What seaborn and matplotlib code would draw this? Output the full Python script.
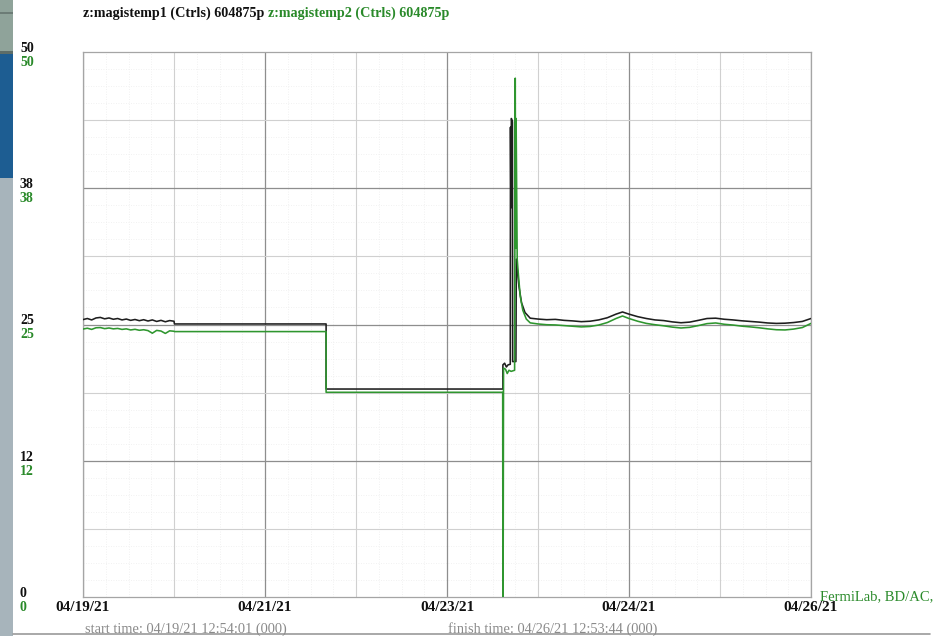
import matplotlib
matplotlib.use("Agg")
import matplotlib.pyplot as plt
import matplotlib.transforms as mtransforms
from matplotlib.patches import Rectangle
from matplotlib.lines import Line2D
from matplotlib.ticker import FixedLocator
import numpy as np
import pandas as pd
import seaborn as sns

sns.set_theme(style="white")
plt.rcParams["font.family"] = ["Liberation Serif", "DejaVu Serif"]

# ---- data -----------------------------------------------------------------
series_names = ["z:magistemp1 (Ctrls) 604875p", "z:magistemp2 (Ctrls) 604875p"]

date_hours = [0, 42, 84, 126, 168]
date_labels = ["04/19/21", "04/21/21", "04/23/21", "04/24/21", "04/26/21"]

y_ticks = [0, 12.5, 25, 37.5, 50]
y_tick_labels = ["0", "12", "25", "38", "50"]

start_label = "start time: 04/19/21 12:54:01 (000)"
finish_label = "finish time: 04/26/21 12:53:44 (000)"
footer_label = "FermiLab, BD/AC,"

# hours since start time, magistemp1
hours_1 = [0, 1, 2, 3, 4, 5, 6, 7, 8, 9, 10, 11, 12, 13, 14, 15, 16, 17, 18, 19, 20, 21,
           21.1, 56.1, 56.1, 96.9, 96.9, 97.3, 97.7, 98.1, 98.6, 98.65, 98.75, 98.85,
           99.1, 99.15, 99.9, 100.0, 100.6, 101.2, 102.0, 103.2,
           105, 107, 109, 111, 113, 115, 117, 119, 121, 123, 124.5, 126, 128, 130,
           132, 134, 136, 138, 140, 142, 144, 146, 148, 150, 152, 154, 156, 158,
           160, 162, 164, 166, 168]
temp_1 = [25.45, 25.55, 25.42, 25.60, 25.65, 25.52, 25.60, 25.48, 25.55, 25.42, 25.50,
          25.38, 25.46, 25.35, 25.44, 25.32, 25.42, 25.28, 25.38, 25.25, 25.36, 25.30,
          25.05, 25.05, 19.08, 19.08, 21.30, 21.45, 21.10, 21.30, 21.35, 43.10, 35.70,
          43.90, 43.60, 21.60, 21.60, 31.00, 28.50, 27.00, 26.10, 25.58,
          25.50, 25.44, 25.47, 25.38, 25.33, 25.26, 25.30, 25.42, 25.62, 25.95, 26.15,
          25.95, 25.72, 25.55, 25.42, 25.36, 25.24, 25.16, 25.22, 25.38, 25.55, 25.58,
          25.48, 25.42, 25.34, 25.28, 25.22, 25.14, 25.10, 25.12, 25.18, 25.28, 25.55]

# hours since start time, magistemp2
hours_2 = [0, 1, 2, 3, 4, 5, 6, 7, 8, 9, 10, 11, 12, 13, 14, 15, 16, 17, 18, 19, 20, 21,
           21.1, 56.1, 56.1, 96.85, 96.9, 96.95, 97.05, 97.5, 97.9, 98.3, 98.8, 99.6,
           99.75, 99.85, 99.95, 100.2, 100.45, 100.9, 101.5, 102.3, 103.2,
           105, 107, 109, 111, 113, 115, 117, 119, 121, 123, 124.5, 126, 128, 130,
           132, 134, 136, 138, 140, 142, 144, 146, 148, 150, 152, 154, 156, 158,
           160, 162, 164, 166, 168]
temp_2 = [24.58, 24.66, 24.55, 24.70, 24.72, 24.62, 24.68, 24.60, 24.64, 24.55, 24.60,
          24.50, 24.56, 24.47, 24.52, 24.44, 24.20, 24.46, 24.40, 24.18, 24.42, 24.38,
          24.35, 24.35, 18.78, 18.78, 0.00, 0.00, 21.00, 20.90, 20.50, 20.80, 20.70,
          20.80, 47.60, 32.00, 43.90, 31.00, 29.70, 27.60, 26.30, 25.50, 25.15,
          25.05, 24.98, 24.96, 24.90, 24.84, 24.78, 24.82, 24.95, 25.18, 25.55, 25.78,
          25.55, 25.30, 25.10, 24.98, 24.88, 24.76, 24.68, 24.74, 24.90, 25.08, 25.14,
          25.02, 24.95, 24.85, 24.78, 24.70, 24.60, 24.52, 24.50, 24.58, 24.72, 25.10]

# ---- style ----------------------------------------------------------------
BLACK = "#1e1e1e"
GREEN = "#2f962f"
LABEL_GREEN = "#2a8a2a"
W, H = 941, 636

df = pd.concat([
    pd.DataFrame({"hours": hours_1, "temp": temp_1, "device": series_names[0]}),
    pd.DataFrame({"hours": hours_2, "temp": temp_2, "device": series_names[1]}),
], ignore_index=True)

fig = plt.figure(figsize=(W / 100, H / 100), dpi=100)
fig.patch.set_facecolor("white")

# window strip on the left edge of the capture
fig.patches.extend([
    Rectangle((0, 0), 13 / W, 1, transform=fig.transFigure, facecolor="#a7b4bb", edgecolor="none"),
    Rectangle((0, 1 - 178 / H), 13 / W, 125 / H, transform=fig.transFigure, facecolor="#1d5d92", edgecolor="none"),
    Rectangle((0, 1 - 53 / H), 13 / W, 53 / H, transform=fig.transFigure, facecolor="#8fa39a", edgecolor="none"),
    Rectangle((0, 1 - 54 / H), 13 / W, 3 / H, transform=fig.transFigure, facecolor="#5d6d68", edgecolor="none"),
    Rectangle((0, 1 - 14 / H), 13 / W, 2 / H, transform=fig.transFigure, facecolor="#6c7c76", edgecolor="none"),
])

ax = fig.add_axes([83 / W, 39 / H, 728 / W, 545 / H])
ax.set_facecolor("white")

sns.lineplot(data=df, x="hours", y="temp", hue="device", hue_order=series_names,
             palette=[BLACK, GREEN], estimator=None, sort=False, lw=1.15,
             legend=False, ax=ax, zorder=3)

ax.set_xlim(0, 168)
ax.set_ylim(0, 50)
ax.set_xlabel("")
ax.set_ylabel("")

# grid: darker every second division, lighter in between, faint dotted fill
ax.set_xticks(date_hours)
ax.set_xticklabels(date_labels, fontweight="bold", fontsize=11, color="#111111")
ax.xaxis.set_minor_locator(FixedLocator([21, 63, 105, 147]))
ax.set_yticks([12.5, 25, 37.5])
ax.yaxis.set_minor_locator(FixedLocator([6.25, 18.75, 31.25, 43.75]))
ax.tick_params(which="both", length=0, labelleft=False, pad=3)
ax.grid(which="major", color="#8e8e8e", lw=0.9)
ax.grid(which="minor", color="#d0d0d0", lw=0.8)
for xv in np.arange(0, 168, 21 / 4):
    ax.axvline(xv, color="#ededed", lw=0.6, ls=(0, (1, 2)), zorder=0.5)
for yv in np.arange(0, 50, 6.25 / 4):
    ax.axhline(yv, color="#ededed", lw=0.6, ls=(0, (1, 2)), zorder=0.5)
ax.set_axisbelow(True)
for sp in ax.spines.values():
    sp.set_color("#a5a5a5")
    sp.set_linewidth(0.9)

# paired y labels, one per device, stacked black over green
ytrans = mtransforms.blended_transform_factory(fig.transFigure, ax.transData)
for val, lab in zip(y_ticks, y_tick_labels):
    ax.text(20 / W, val, lab, transform=mtransforms.offset_copy(ytrans, fig=fig, y=-3, units="dots"),
            ha="left", va="bottom", fontsize=10, fontweight="bold", color="#111111", clip_on=False)
    ax.text(20 / W, val, lab, transform=mtransforms.offset_copy(ytrans, fig=fig, y=-4, units="dots"),
            ha="left", va="top", fontsize=10, fontweight="bold", color=LABEL_GREEN, clip_on=False)

# header with the two device names
fig.text(83 / W, 1 - 13 / H, series_names[0], ha="left", va="center",
         fontsize=10.2, fontweight="bold", color="#111111")
fig.text(268 / W, 1 - 13 / H, series_names[1], ha="left", va="center",
         fontsize=10.2, fontweight="bold", color=LABEL_GREEN)

# footer
fig.text(820 / W, 1 - 597 / H, footer_label, ha="left", va="center", fontsize=10.5, color=LABEL_GREEN)
fig.text(186 / W, 1 - 629 / H, start_label, ha="center", va="center", fontsize=10.4, color="#8a8a8a")
fig.text(553 / W, 1 - 629 / H, finish_label, ha="center", va="center", fontsize=10.4, color="#8a8a8a")
fig.lines.append(Line2D([13 / W, 930 / W], [1 - 634 / H, 1 - 634 / H], transform=fig.transFigure,
                        color="#9a9a9a", lw=1.2))

fig.savefig("out.png", dpi=100, facecolor="white")
